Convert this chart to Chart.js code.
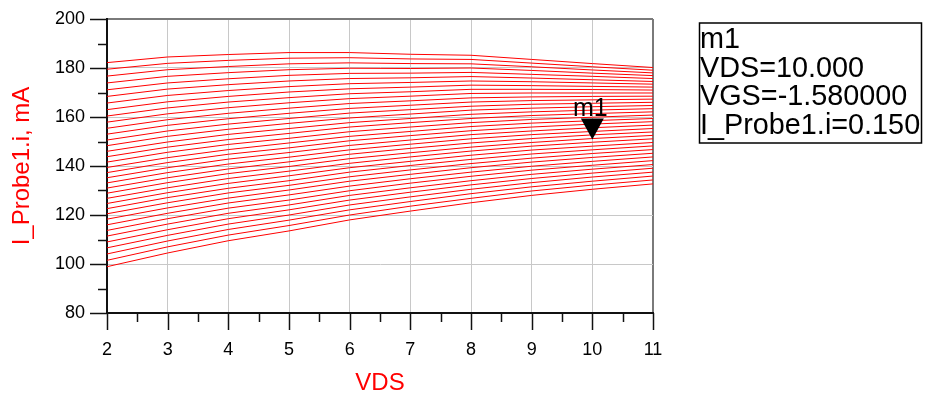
<!DOCTYPE html>
<html>
<head>
<meta charset="utf-8">
<script src="https://cdn.jsdelivr.net/npm/chart.js@4.4.1/dist/chart.umd.min.js"></script>
<style>
  html,body{margin:0;padding:0;background:#fff;}
  #wrap{width:926px;height:398px;position:relative;}
</style>
</head>
<body>
<div id="wrap"><canvas id="cv" width="926" height="398"></canvas></div>
<script>
// VDS sweep points (x axis)
const vds=[2,3,4,5,6,7,8,9,10,11];

// I_Probe1.i in mA, one array per VGS step (bottom curve first)
const c00=[98.9,104.5,109.5,113.5,118.0,121.6,125.0,128.0,130.5,132.7];
const c01=[101.5,107.0,111.8,115.7,120.0,123.6,126.8,129.8,132.2,134.3];
const c02=[104.1,109.4,114.1,117.9,122.1,125.5,128.7,131.5,133.8,135.9];
const c03=[106.6,111.7,116.3,120.0,124.1,127.4,130.5,133.2,135.5,137.5];
const c04=[109.0,114.0,118.5,122.1,126.1,129.3,132.3,134.9,137.1,139.1];
const c05=[111.4,116.3,120.7,124.1,128.0,131.1,134.0,136.6,138.7,140.6];
const c06=[113.7,118.5,122.8,126.1,129.9,133.0,135.8,138.3,140.3,142.2];
const c07=[116.0,120.7,124.9,128.2,131.8,134.8,137.5,139.9,141.9,143.7];
const c08=[118.3,122.9,126.9,130.2,133.8,136.6,139.3,141.6,143.5,145.2];
const c09=[120.5,125.0,129.0,132.1,135.6,138.4,141.0,143.2,145.1,146.7];
const c10=[122.6,127.1,130.9,134.0,137.5,140.2,142.7,144.9,146.6,148.2];
const c11=[124.7,129.1,132.9,136.0,139.3,141.9,144.4,146.5,148.1,149.6];
const c12=[126.8,131.1,134.9,137.9,141.1,143.7,146.1,148.1,149.7,151.1];
const c13=[128.9,133.2,136.9,139.8,143.0,145.4,147.7,149.6,151.2,152.5];
const c14=[131.0,135.2,138.8,141.7,144.8,147.2,149.4,151.2,152.7,153.9];
const c15=[133.1,137.3,140.8,143.6,146.6,148.9,151.1,152.8,154.1,155.3];
const c16=[135.2,139.3,142.8,145.5,148.4,150.6,152.8,154.3,155.6,156.7];
const c17=[137.3,141.4,144.8,147.4,150.3,152.4,154.4,155.9,157.1,158.1];
const c18=[139.4,143.4,146.7,149.4,152.1,154.1,156.1,157.5,158.5,159.4];
const c19=[141.6,145.6,148.8,151.3,154.0,155.9,157.7,159.0,159.9,160.8];
const c20=[143.8,147.7,150.8,153.3,155.9,157.7,159.4,160.6,161.4,162.1];
const c21=[146.0,149.8,152.9,155.3,157.7,159.4,161.1,162.1,162.8,163.4];
const c22=[148.3,152.1,155.0,157.4,159.6,161.2,162.8,163.6,164.2,164.7];
const c23=[150.6,154.3,157.1,159.4,161.6,163.0,164.4,165.2,165.6,166.0];
const c24=[153.0,156.6,159.3,161.5,163.5,164.8,166.1,166.7,167.0,167.3];
const c25=[155.4,158.9,161.5,163.6,165.5,166.6,167.8,168.2,168.4,168.5];
const c26=[157.9,161.3,163.8,165.8,167.5,168.5,169.6,169.8,169.8,169.8];
const c27=[160.4,163.7,166.1,167.9,169.5,170.3,171.3,171.3,171.2,171.0];
const c28=[163.0,166.2,168.4,170.2,171.5,172.2,173.0,172.8,172.5,172.2];
const c29=[165.7,168.8,170.8,172.4,173.6,174.1,174.7,174.4,173.9,173.4];
const c30=[168.4,171.4,173.2,174.7,175.7,176.0,176.5,175.9,175.2,174.5];
const c31=[171.1,173.9,175.6,177.0,177.8,177.9,178.2,177.4,176.6,175.7];
const c32=[173.9,176.6,178.1,179.3,179.9,179.8,180.0,179.0,177.9,176.9];
const c33=[176.7,179.3,180.6,181.7,182.1,181.8,181.7,180.5,179.2,178.0];
const c34=[179.5,181.9,183.1,184.0,184.2,183.7,183.5,182.0,180.5,179.1];
const c35=[182.2,184.5,185.5,186.3,186.3,185.6,185.2,183.5,181.8,180.2];

const curves=[c00,c01,c02,c03,c04,c05,c06,c07,c08,c09,c10,c11,c12,c13,c14,c15,c16,c17,
  c18,c19,c20,c21,c22,c23,c24,c25,c26,c27,c28,c29,c30,c31,c32,c33,c34,c35];

// marker m1
const markerX=10;
const markerY=150;
const markerInfo=["m1","VDS=10.000","VGS=-1.580000","I_Probe1.i=0.150"];

const FONT="'Liberation Sans', Arial, sans-serif";

const datasets=curves.map((vals,i)=>({
  label:"c"+i,
  data:vals.map((v,k)=>({x:vds[k],y:v})),
  borderColor:"#ff0000",
  borderWidth:1,
  pointRadius:0,
  tension:0,
  fill:false
}));

// tick marks outside the axes + marker + marker readout box
const decor={
  id:"decor",
  afterDraw(chart){
    const {ctx,chartArea:a,scales:{x,y}}=chart;
    ctx.save();
    ctx.strokeStyle="#111";
    ctx.lineWidth=1.5;
    for(let v=80;v<=200;v+=10){
      const py=Math.round(y.getPixelForValue(v))+.5;
      const len=(v%20===0)?17:9;
      ctx.beginPath();ctx.moveTo(a.left-len,py);ctx.lineTo(a.left,py);ctx.stroke();
    }
    for(let v=2;v<=11;v+=.5){
      const px=Math.round(x.getPixelForValue(v))+.5;
      const len=(v%1===0)?17:9;
      ctx.beginPath();ctx.moveTo(px,a.bottom);ctx.lineTo(px,a.bottom+len);ctx.stroke();
    }

    // marker triangle
    const mx=x.getPixelForValue(markerX);
    const my=y.getPixelForValue(markerY)-2;
    ctx.fillStyle="#000";
    ctx.beginPath();
    ctx.moveTo(mx,my);
    ctx.lineTo(mx-11.5,my-21);
    ctx.lineTo(mx+11.5,my-21);
    ctx.closePath();ctx.fill();
    ctx.font="25px "+FONT;
    ctx.textAlign="center";ctx.textBaseline="alphabetic";
    ctx.fillText(markerInfo[0],mx-2,my-24);

    // readout box
    ctx.strokeStyle="#000";ctx.lineWidth=1.5;
    ctx.strokeRect(699.5,23,222,120);
    ctx.font="28.8px "+FONT;
    ctx.textAlign="left";
    markerInfo.forEach((t,i)=>ctx.fillText(t,700,48+i*28.7));
    ctx.restore();
  }
};

new Chart(document.getElementById("cv"),{
  type:"line",
  data:{datasets},
  options:{
    responsive:false,
    animation:false,
    events:[],
    layout:{padding:{top:19,right:273,left:0,bottom:0}},
    plugins:{legend:{display:false},tooltip:{enabled:false}},
    scales:{
      x:{
        type:"linear",min:2,max:11,
        afterFit:(s)=>{s.height=85;},
        ticks:{stepSize:.5,padding:26,color:"#000",font:{family:FONT,size:18},
          callback:(v)=>Number.isInteger(v)?String(v):""},
        grid:{drawTicks:false,
          color:(c)=>{const v=c.tick&&c.tick.value;
            if(v===11) return "#7a7a7a";
            return Number.isInteger(v)?"#c8c8c8":"rgba(0,0,0,0)";},
          lineWidth:(c)=>(c.tick&&c.tick.value===11)?2:1},
        border:{color:"#111",width:2},
        title:{display:true,text:"VDS",color:"#ff0000",font:{family:FONT,size:24},padding:{top:0,bottom:0}}
      },
      y:{
        min:80,max:200,
        afterFit:(s)=>{s.width=107;},
        ticks:{stepSize:10,padding:0,color:"#000",font:{family:FONT,size:18},
          callback:(v)=>(v%20===0)?String(v):""},
        grid:{drawTicks:true,tickLength:22,tickColor:"rgba(0,0,0,0)",
          color:(c)=>{const v=c.tick&&c.tick.value;
            if(v===200) return "#7a7a7a";
            return (v%20===0)?"#c8c8c8":"rgba(0,0,0,0)";},
          lineWidth:(c)=>(c.tick&&c.tick.value===200)?2:1},
        border:{color:"#111",width:2},
        title:{display:true,text:"I_Probe1.i, mA",color:"#ff0000",font:{family:FONT,size:24},padding:{top:8,bottom:0}}
      }
    }
  },
  plugins:[decor]
});
</script>
</body>
</html>
